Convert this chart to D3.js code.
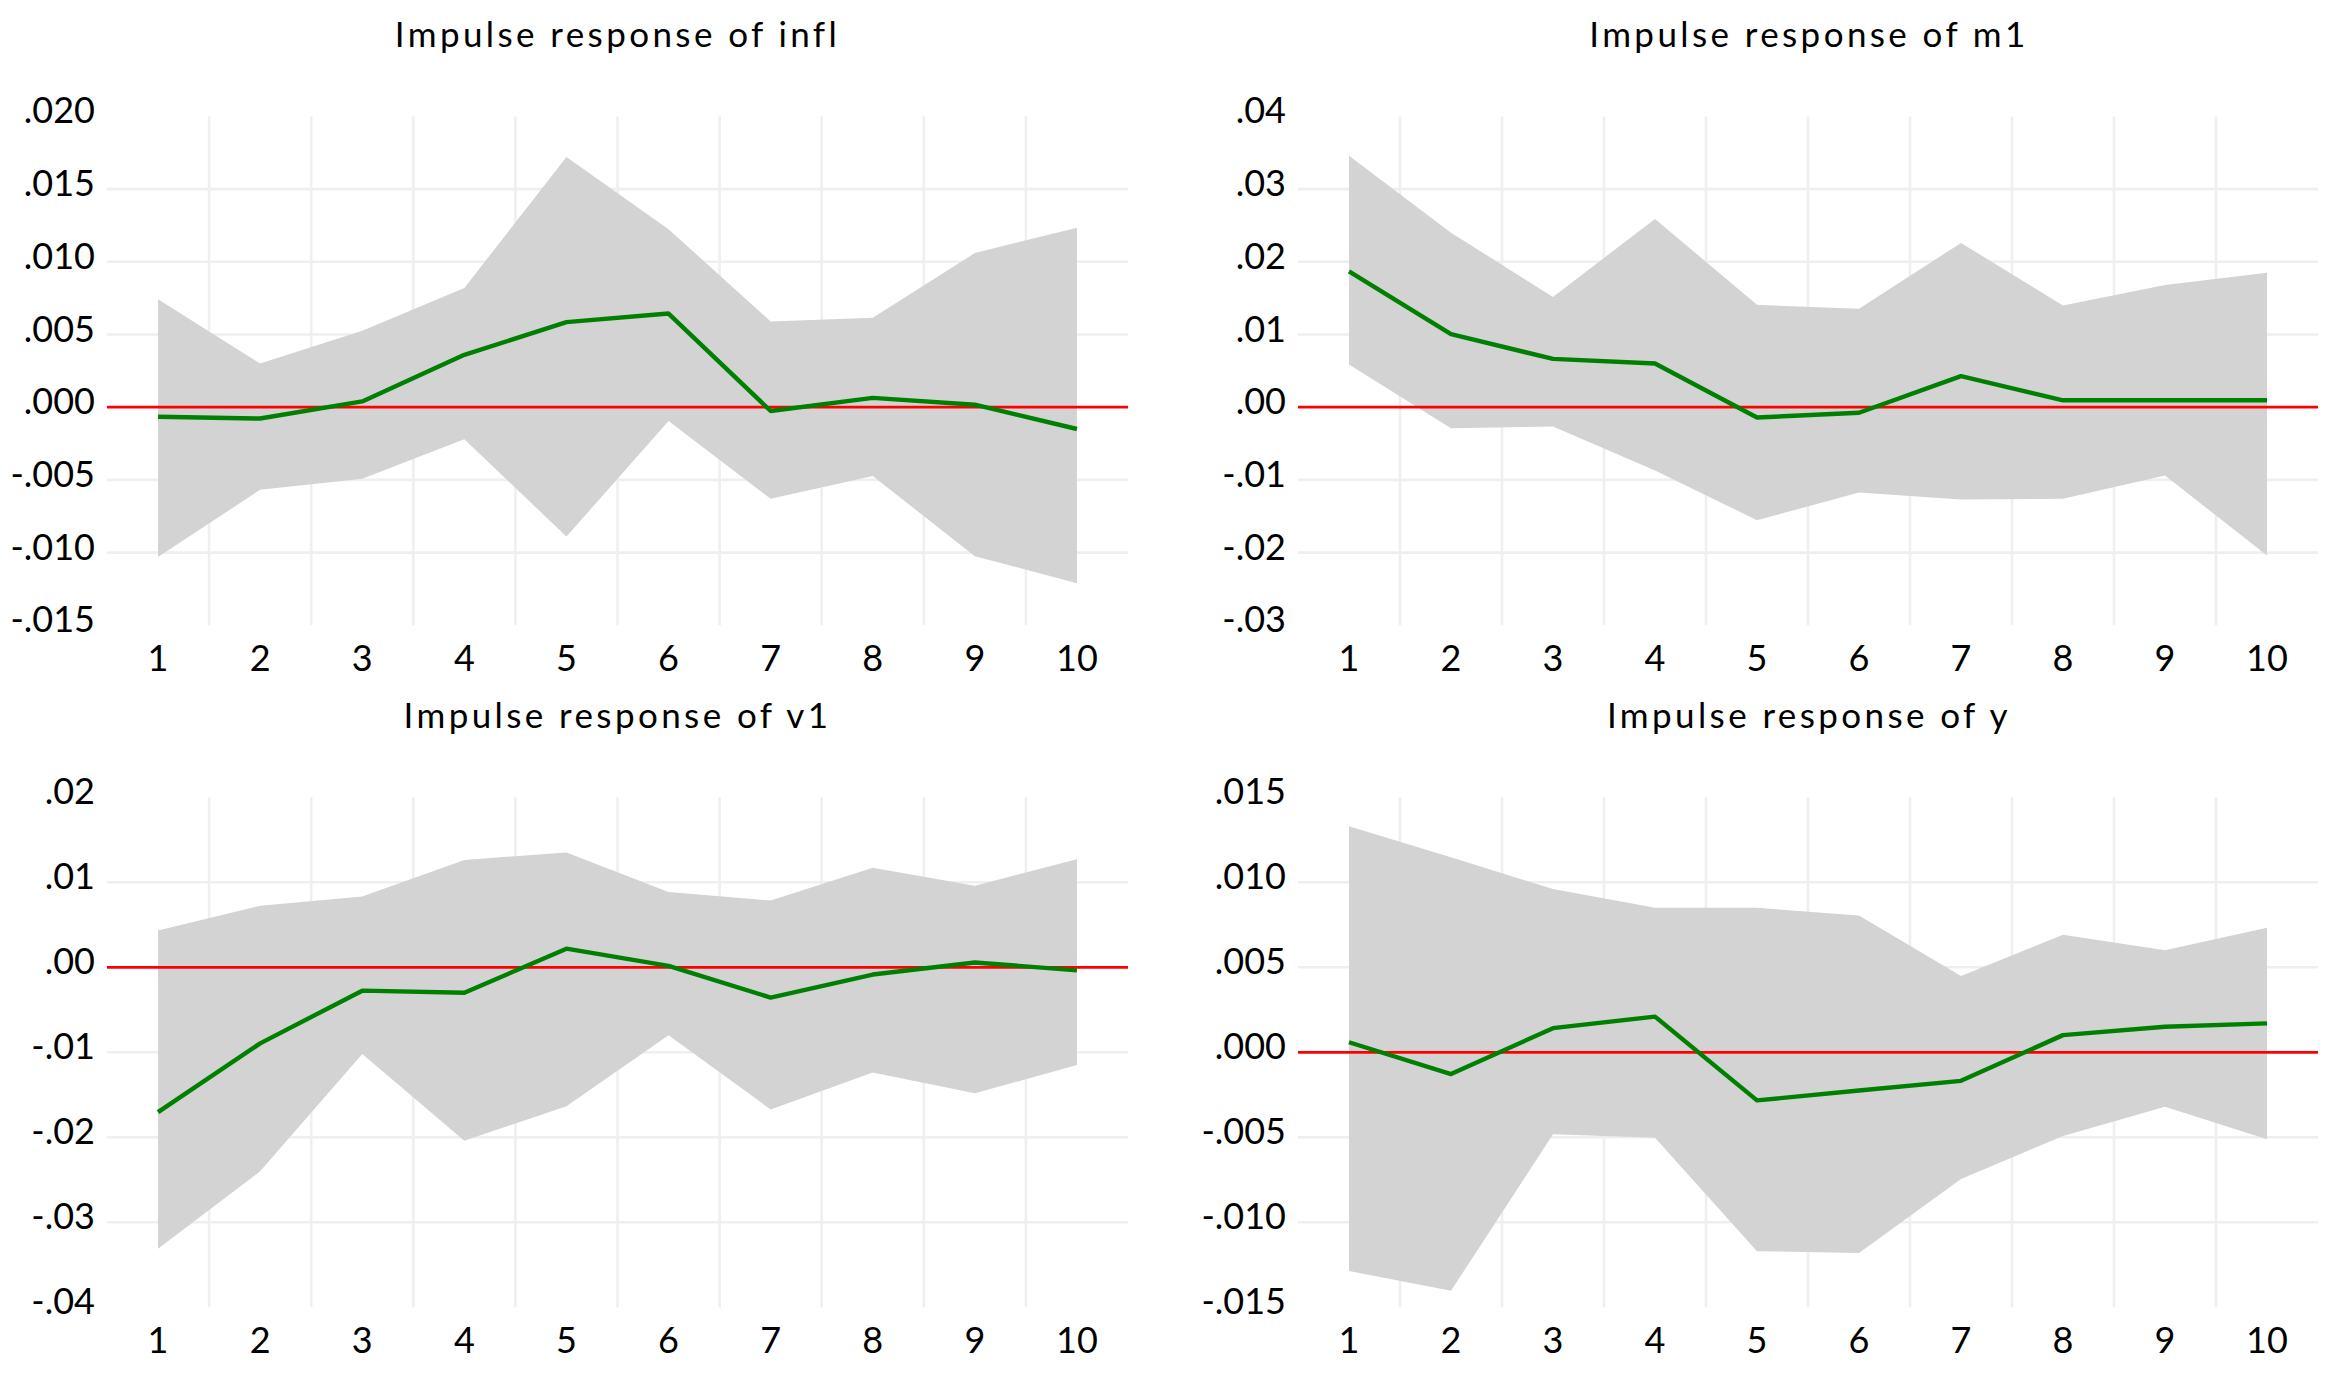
<!DOCTYPE html>
<html>
<head>
<meta charset="utf-8">
<script src="https://cdn.jsdelivr.net/npm/d3@7"></script>
<style>
  body { margin: 0; background: #fff; }
  text { font-family: Lato, "Open Sans", sans-serif; fill: #000; }
</style>
</head>
<body>
<svg id="chart"></svg>
<script>
var width = 2343, height = 1380;

var periods = [1, 2, 3, 4, 5, 6, 7, 8, 9, 10];

// impulse responses
var inflResp  = [-0.00066, -0.00078, 0.0004, 0.0036, 0.00585, 0.00644, -0.00026, 0.00064, 0.00017, -0.0015];
var inflUpper = [0.00743, 0.0030, 0.00525, 0.0082, 0.0172, 0.01224, 0.0059, 0.00615, 0.0106, 0.01235];
var inflLower = [-0.0103, -0.00568, -0.00492, -0.0022, -0.0089, -0.00095, -0.0063, -0.00473, -0.01025, -0.0121];

var m1Resp  = [0.01867, 0.01005, 0.00664, 0.00602, -0.00142, -0.00076, 0.00427, 0.00095, 0.00095, 0.00095];
var m1Upper = [0.0346, 0.0240, 0.01517, 0.0259, 0.01408, 0.01355, 0.0226, 0.0140, 0.0168, 0.01848];
var m1Lower = [0.00588, -0.00289, -0.00265, -0.0087, -0.01555, -0.01174, -0.0127, -0.0126, -0.00938, -0.0204];

var v1Resp  = [-0.01704, -0.00895, -0.00275, -0.0030, 0.00219, 0.00016, -0.00356, -0.00085, 0.00057, -0.00036];
var v1Upper = [0.00433, 0.00725, 0.00834, 0.01263, 0.01352, 0.00887, 0.00785, 0.0117, 0.0096, 0.0127];
var v1Lower = [-0.0331, -0.0240, -0.0102, -0.0204, -0.01636, -0.0080, -0.01672, -0.01239, -0.01482, -0.0115];

var yResp  = [0.00059, -0.00128, 0.00142, 0.0021, -0.00283, -0.00225, -0.00168, 0.00101, 0.0015, 0.0017];
var yUpper = [0.0133, 0.01148, 0.0096, 0.0085, 0.0085, 0.00804, 0.00449, 0.00692, 0.00601, 0.00733];
var yLower = [-0.01287, -0.01403, -0.00482, -0.00502, -0.0117, -0.0118, -0.00745, -0.00492, -0.0032, -0.00512];

var inflTicks = [-0.015, -0.010, -0.005, 0, 0.005, 0.010, 0.015, 0.020];
var m1Ticks   = [-0.03, -0.02, -0.01, 0, 0.01, 0.02, 0.03, 0.04];
var v1Ticks   = [-0.04, -0.03, -0.02, -0.01, 0, 0.01, 0.02];
var yTicks    = [-0.015, -0.010, -0.005, 0, 0.005, 0.010, 0.015];

var titles = ["Impulse response of infl", "Impulse response of m1",
              "Impulse response of v1", "Impulse response of y"];

var panels = [
  {title: titles[0], resp: inflResp, upper: inflUpper, lower: inflLower, ticks: inflTicks, dec: 3,
   x0: 107, x1: 1128, y0: 116.4, y1: 625.3},
  {title: titles[1], resp: m1Resp, upper: m1Upper, lower: m1Lower, ticks: m1Ticks, dec: 2,
   x0: 1298, x1: 2318, y0: 116.4, y1: 625.3},
  {title: titles[2], resp: v1Resp, upper: v1Upper, lower: v1Lower, ticks: v1Ticks, dec: 2,
   x0: 107, x1: 1128, y0: 797.3, y1: 1307.3},
  {title: titles[3], resp: yResp, upper: yUpper, lower: yLower, ticks: yTicks, dec: 3,
   x0: 1298, x1: 2318, y0: 797.3, y1: 1307.3}
];

var svg = d3.select("#chart")
    .attr("width", width)
    .attr("height", height);

function fmt(v, dec) {
  var s = d3.format("." + dec + "f")(v);
  return s.replace("\u2212", "-").replace("0.", ".");   // .020, -.005 style
}

panels.forEach(function (p) {
  var g = svg.append("g");

  var x = d3.scaleLinear()
      .domain([0.5, 10.5])
      .range([p.x0, p.x1]);

  var y = d3.scaleLinear()
      .domain([d3.min(p.ticks), d3.max(p.ticks)])
      .range([p.y1, p.y0]);

  // grid, only the inner lines
  var vGrid = d3.range(1.5, 10, 1);
  g.selectAll(".vgrid").data(vGrid).enter().append("line")
      .attr("x1", function (d) { return x(d); })
      .attr("x2", function (d) { return x(d); })
      .attr("y1", p.y0)
      .attr("y2", p.y1)
      .attr("stroke", "#efefef")
      .attr("stroke-width", 2.6);

  var hGrid = p.ticks.slice(1, -1).filter(function (d) { return d !== 0; });
  g.selectAll(".hgrid").data(hGrid).enter().append("line")
      .attr("x1", p.x0)
      .attr("x2", p.x1)
      .attr("y1", function (d) { return y(d); })
      .attr("y2", function (d) { return y(d); })
      .attr("stroke", "#efefef")
      .attr("stroke-width", 2.6);

  // confidence band
  var band = periods.map(function (t, i) { return {t: t, lo: p.lower[i], hi: p.upper[i]}; });
  var area = d3.area()
      .x(function (d) { return x(d.t); })
      .y0(function (d) { return y(d.lo); })
      .y1(function (d) { return y(d.hi); });
  g.append("path")
      .datum(band)
      .attr("d", area)
      .attr("fill", "#d3d3d3");

  // zero line
  g.append("line")
      .attr("x1", p.x0)
      .attr("x2", p.x1)
      .attr("y1", y(0))
      .attr("y2", y(0))
      .attr("stroke", "#ff0000")
      .attr("stroke-width", 2.8);

  // response
  var line = d3.line()
      .x(function (d, i) { return x(periods[i]); })
      .y(function (d) { return y(d); });
  g.append("path")
      .datum(p.resp)
      .attr("d", line)
      .attr("fill", "none")
      .attr("stroke", "#008000")
      .attr("stroke-width", 4.4)
      .attr("stroke-linejoin", "round");

  // y tick labels
  g.selectAll(".ylab").data(p.ticks).enter().append("text")
      .attr("x", p.x0 - 12)
      .attr("y", function (d) { return y(d) + 7; })
      .attr("text-anchor", "end")
      .style("font-size", "36px")
      .text(function (d) { return fmt(d, p.dec); });

  // x tick labels
  g.selectAll(".xlab").data(periods).enter().append("text")
      .attr("x", function (d) { return x(d); })
      .attr("y", p.y1 + 46)
      .attr("text-anchor", "middle")
      .style("font-size", "36px")
      .text(function (d) { return d; });

  // title
  g.append("text")
      .attr("x", (p.x0 + p.x1) / 2 + (p.x0 > 1000 ? 1 : 0))
      .attr("y", p.y0 - 69)
      .attr("text-anchor", "middle")
      .style("font-size", "35px")
      .style("letter-spacing", "3.4px")
      .text(p.title);
});
</script>
</body>
</html>
